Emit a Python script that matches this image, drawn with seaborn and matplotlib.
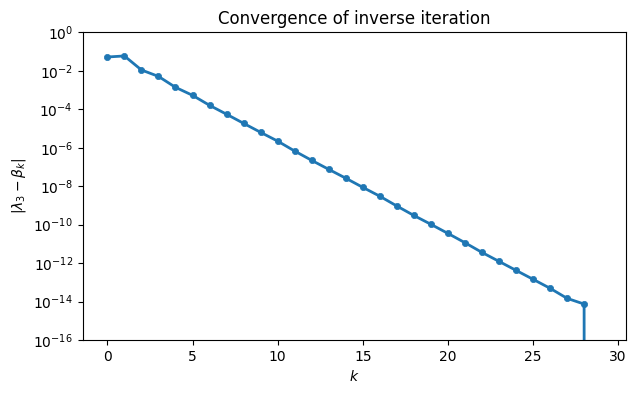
import numpy as np
import pandas as pd
import matplotlib
matplotlib.use("Agg")
import matplotlib.pyplot as plt
import seaborn as sns

k = list(range(30))
err = [5.2e-2, 5.9e-2, 1.1e-2, 5.1e-3, 1.38e-3, 5.3e-4, 1.6e-4, 5.5e-5, 1.85e-5, 6.3e-6,
       2.2e-6, 6.7e-7, 2.2e-7, 7.5e-8, 2.6e-8, 8.7e-9, 3.0e-9, 9.3e-10, 3.0e-10, 1.04e-10,
       3.5e-11, 1.15e-11, 3.6e-12, 1.23e-12, 4.2e-13, 1.44e-13, 4.9e-14, 1.47e-14, 7.4e-15, 0.0]

df = pd.DataFrame({"k": k, "err": err})

fig, ax = plt.subplots(figsize=(6.36, 3.94), dpi=100)
sns.lineplot(data=df, x="k", y="err", ax=ax, marker="o", color="C0", linewidth=2,
             markersize=4.5, markeredgecolor="C0", markeredgewidth=0.5)
ax.set_yscale("log")
ax.set_ylim(1e-16, 1)
ax.set_xlim(-1.45, 30.45)
ax.set_title("Convergence of inverse iteration")
ax.set_xlabel("$k$")
ax.set_ylabel(r"$|\lambda_3 - \beta_k|$")
plt.subplots_adjust(left=0.130, right=0.984, top=0.918, bottom=0.137)
plt.savefig("out.png")
